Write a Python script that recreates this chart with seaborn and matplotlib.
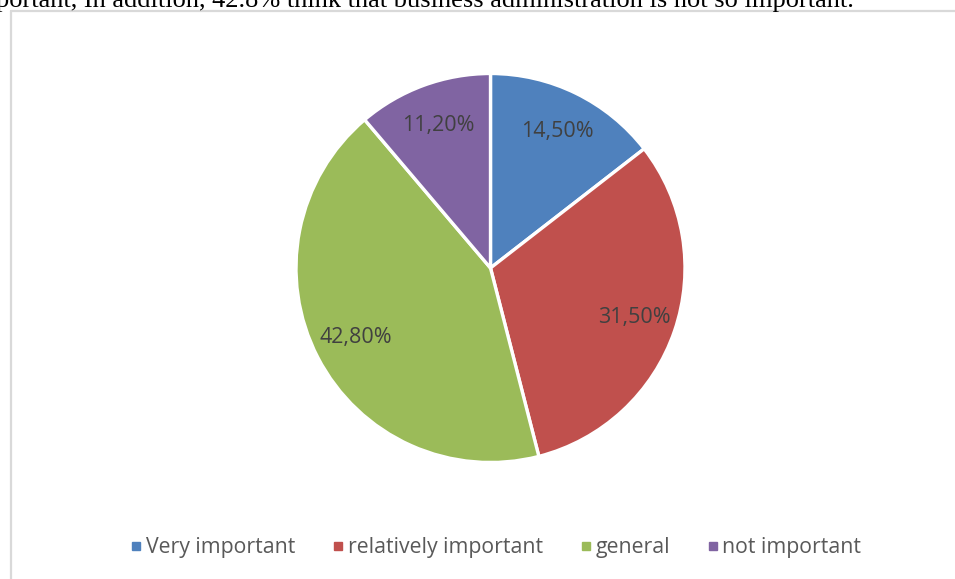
from __future__ import annotations

import matplotlib

matplotlib.use("Agg")
import matplotlib.pyplot as plt
import numpy as np
import seaborn as sns
from matplotlib.lines import Line2D


OUTPUT_PNG = "out.png"
FIG_W, FIG_H, DPI = 955, 579, 100

CATEGORIES = ["Very important", "relatively important", "general", "not important"]
SHARES = [14.5, 31.5, 42.8, 11.2]
COLORS = ["#4F81BD", "#C0504D", "#9BBB59", "#8064A2"]
LABELS = ["14,50%", "31,50%", "42,80%", "11,20%"]

PAGE_TEXT = "portant, In addition, 42.8% think that business administration is not so important."

# pie geometry in pixels (from top-left)
PIE_CX, PIE_CY, PIE_R = 490.5, 268, 194.5


def px_x(x: float) -> float:
    return x / FIG_W


def px_y(y: float) -> float:
    return 1 - y / FIG_H


def draw_page(fig: plt.Figure) -> None:
    # cut-off sentence from the document above the chart
    fig.text(px_x(-4), px_y(7), PAGE_TEXT, family="Liberation Serif",
             fontsize=19, color="black", va="baseline", ha="left")
    # chart frame (only top and left edges are inside the crop)
    frame = "#d9d9d9"
    fig.add_artist(Line2D([px_x(11), 1.01], [px_y(11), px_y(11)],
                          transform=fig.transFigure, color=frame, lw=1.6))
    fig.add_artist(Line2D([px_x(11), px_x(11)], [px_y(11), -0.01],
                          transform=fig.transFigure, color=frame, lw=1.6))


def draw_pie(fig: plt.Figure) -> None:
    ax = fig.add_axes([
        px_x(PIE_CX - PIE_R),
        px_y(PIE_CY + PIE_R),
        2 * PIE_R / FIG_W,
        2 * PIE_R / FIG_H,
    ])
    wedges, _ = ax.pie(
        SHARES,
        colors=sns.color_palette(COLORS),
        startangle=90,
        counterclock=False,
        radius=1,
        wedgeprops=dict(edgecolor="white", linewidth=2.4),
    )
    for wedge, label in zip(wedges, LABELS):
        theta = np.deg2rad((wedge.theta1 + wedge.theta2) / 2)
        ax.text(0.78 * np.cos(theta), 0.78 * np.sin(theta), label,
                ha="center", va="center", fontsize=15.5, color="#404040",
                family="Open Sans")
    ax.set_xlim(-1, 1)
    ax.set_ylim(-1, 1)
    ax.set_aspect("equal")
    ax.axis("off")

    handles = [
        Line2D([], [], marker="s", linestyle="none", markersize=6,
               markerfacecolor=c, markeredgecolor=c)
        for c in COLORS
    ]
    fig.legend(
        handles, CATEGORIES,
        loc="center", bbox_to_anchor=(px_x(496.5), px_y(548)),
        ncol=4, frameon=False,
        prop={"family": "Open Sans", "size": 15.3},
        labelcolor="#595959",
        handlelength=0.45, handletextpad=0.22, columnspacing=1.8,
    )


def main() -> None:
    sns.set_theme(style="white")
    fig = plt.figure(figsize=(FIG_W / DPI, FIG_H / DPI), dpi=DPI)
    fig.patch.set_facecolor("white")
    draw_page(fig)
    draw_pie(fig)
    fig.savefig(OUTPUT_PNG, dpi=DPI, facecolor="white")
    plt.close(fig)


if __name__ == "__main__":
    main()
